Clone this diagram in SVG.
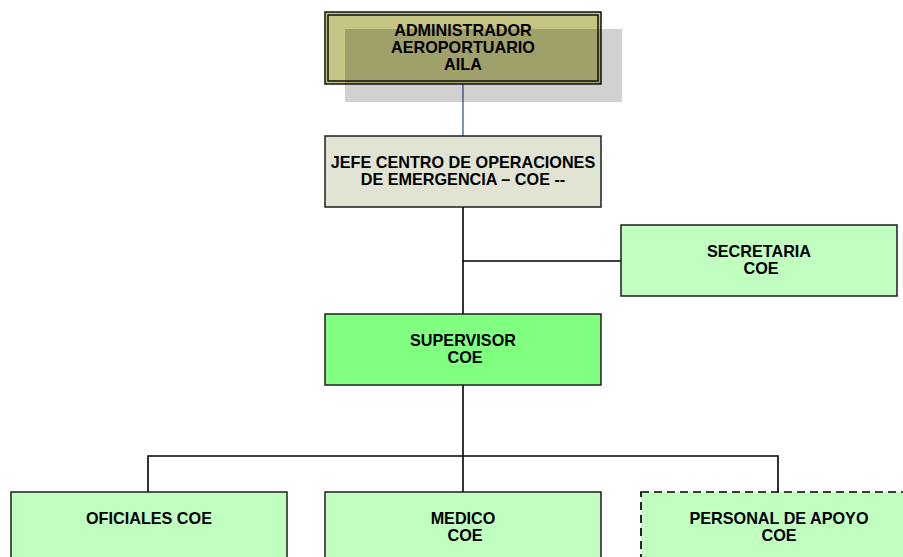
<svg xmlns="http://www.w3.org/2000/svg" width="903" height="557" viewBox="0 0 903 557">
<style>
.box{stroke:#1e1e1e;stroke-width:1.5}
.t{font-family:"Liberation Sans",Arial,sans-serif;font-weight:bold;font-size:16.2px;fill:#000;text-anchor:middle}
.c{fill:none;stroke:#000;stroke-width:1.6}
</style>
<rect width="903" height="557" fill="#fff"/>
<g id="connectors">
<line x1="463" y1="84" x2="463" y2="136" stroke="#3a5a98" stroke-width="1.3"/>
<line class="c" x1="463" y1="207" x2="463" y2="314" stroke-width="2"/>
<line class="c" x1="463" y1="261" x2="621" y2="261"/>
<line class="c" x1="463" y1="385" x2="463" y2="492" stroke-width="2.2"/>
<polyline class="c" points="148,492 148,456 778,456 778,492"/>
</g>
<g id="admin">
<rect x="325" y="12" width="276" height="72" fill="#c4c483"/>
<rect x="345" y="29" width="277" height="73" fill="#000" fill-opacity="0.18"/>
<rect x="325" y="12" width="276" height="72" fill="none" stroke="#111" stroke-width="1.5"/>
<rect x="328" y="15" width="270" height="66" fill="none" stroke="#111" stroke-width="1.5"/>
<text class="t" x="463" y="36">ADMINISTRADOR</text>
<text class="t" x="463" y="53">AEROPORTUARIO</text>
<text class="t" x="463" y="70">AILA</text>
</g>
<g id="jefe">
<rect class="box" x="325" y="136" width="276" height="71" fill="#e1e4d3"/>
<text class="t" x="463" y="168">JEFE CENTRO DE OPERACIONES</text>
<text class="t" x="463" y="185">DE EMERGENCIA – COE --</text>
</g>
<g id="secretaria">
<rect class="box" x="621" y="225" width="276" height="71" fill="#c0ffc0"/>
<text class="t" x="759" y="257">SECRETARIA</text>
<text class="t" x="761" y="274">COE</text>
</g>
<g id="supervisor">
<rect class="box" x="325" y="314" width="276" height="71" fill="#80ff80"/>
<text class="t" x="463" y="346">SUPERVISOR</text>
<text class="t" x="465" y="363">COE</text>
</g>
<g id="oficiales">
<rect class="box" x="11" y="492" width="276" height="71" fill="#c0ffc0"/>
<text class="t" x="149" y="524">OFICIALES COE</text>
</g>
<g id="medico">
<rect class="box" x="325" y="492" width="276" height="71" fill="#c0ffc0"/>
<text class="t" x="463" y="524">MEDICO</text>
<text class="t" x="465" y="541">COE</text>
</g>
<g id="personal">
<rect x="641" y="492" width="276" height="71" fill="#c0ffc0" stroke="#000" stroke-width="1.7" stroke-dasharray="8,5"/>
<text class="t" x="779" y="524">PERSONAL DE APOYO</text>
<text class="t" x="779" y="541">COE</text>
</g>
</svg>
